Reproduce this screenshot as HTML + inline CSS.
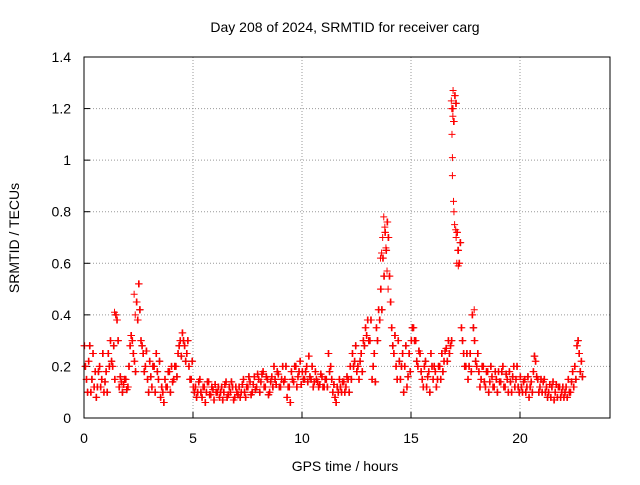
<!DOCTYPE html>
<html><head><meta charset="utf-8"><style>
body{margin:0;background:#fff}
svg text{font-family:"Liberation Sans",sans-serif;font-size:14px;fill:#000}
</style></head><body>
<svg id="chart" width="640" height="480" viewBox="0 0 640 480">
<text x="345" y="32" text-anchor="middle">Day 208 of 2024, SRMTID for receiver carg</text>
<text x="345" y="471" text-anchor="middle">GPS time / hours</text>
<text transform="translate(19,238) rotate(-90)" text-anchor="middle">SRMTID / TECUs</text>
<g id="grid"></g><g id="ticks"></g><g id="marks"></g>
<rect x="84" y="57" width="526" height="361" fill="none" stroke="#000" stroke-width="1"/>
</svg>
<script>
const xTicks=[0,5,10,15,20];
const yTicks=[0,0.2,0.4,0.6,0.8,1,1.2,1.4];
const yTickLabels=["0","0.2","0.4","0.6","0.8","1","1.2","1.4"];
const step=0.1;
const mainVals=[0.28,0.15,0.22,0.1,0.25,0.18,0.12,0.2,0.15,0.1,0.18,0.25,0.3,0.2,0.15,0.38,0.12,0.14,0.13,0.15,0.12,0.28,0.3,0.22,0.45,0.52,0.3,0.25,0.2,0.15,0.22,0.12,0.2,0.25,0.15,0.08,0.1,0.15,0.12,0.18,0.2,0.15,0.2,0.25,0.3,0.33,0.28,0.25,0.2,0.15,0.12,
0.12,0.1,0.15,0.08,0.12,0.1,0.14,0.09,0.11,0.13,
0.1,0.08,0.12,0.1,0.14,0.09,0.1,0.12,0.08,0.1,
0.12,0.1,0.15,0.08,0.12,0.14,0.1,0.16,0.12,0.15,
0.14,0.18,0.12,0.15,0.1,0.16,0.2,0.13,0.17,0.12,
0.2,0.15,0.08,0.12,0.18,0.14,0.2,0.16,0.22,0.18,
0.15,0.2,0.24,0.15,0.12,0.18,0.14,0.13,0.16,0.12,
0.15,0.25,0.2,0.1,0.08,0.12,0.15,0.1,0.14,0.12,
0.15,0.2,0.25,0.22,0.18,0.15,0.25,0.3,0.35,0.38,
0.3,0.15,0.25,0.35,0.42,0.5,0.62,0.72,0.76,0.55,
0.35,0.25,0.2,0.3,0.15,0.25,0.2,0.12,0.25,0.3,
0.35,0.3,0.2,0.25,0.15,0.2,0.12,0.18,0.25,0.15,
0.18,0.15,0.2,0.25,0.22,0.27,0.3,0.28,1.2,1.25,
0.72,0.6,0.35,0.25,0.2,0.15,0.25,0.4,0.3,0.2,
0.18,0.15,0.2,0.12,0.18,0.14,0.16,0.12,0.15,0.18,
0.14,0.2,0.12,0.15,0.18,0.1,0.2,0.15,0.12,0.16,
0.1,0.15,0.12,0.08,0.14,0.18,0.22,0.15,0.12,0.1,
0.15,0.12,0.1,0.08,0.14,0.1,0.08,0.12,0.1,0.08,
0.12,0.15,0.1,0.18,0.2,0.28,0.25,0.22];
const altVals=[0.2,0.1,0.28,0.15,0.12,0.08,0.18,0.12,0.25,0.14,0.1,0.2,0.22,0.28,0.4,0.3,0.16,0.1,0.15,0.11,0.2,0.32,0.25,0.18,0.38,0.42,0.28,0.18,0.26,0.1,0.16,0.2,0.1,0.18,0.22,0.12,0.06,0.12,0.18,0.1,0.14,0.2,0.16,0.28,0.24,0.3,0.22,0.3,0.15,0.22,0.1,
0.08,0.14,0.1,0.12,0.06,0.14,0.09,0.12,0.07,0.1,
0.12,0.1,0.07,0.13,0.08,0.12,0.14,0.07,0.12,0.09,
0.08,0.13,0.1,0.12,0.16,0.09,0.13,0.11,0.17,0.1,
0.17,0.12,0.16,0.09,0.14,0.12,0.15,0.18,0.12,0.15,
0.14,0.2,0.12,0.06,0.15,0.2,0.12,0.18,0.13,0.15,
0.18,0.14,0.16,0.2,0.14,0.15,0.12,0.17,0.12,0.15,
0.12,0.18,0.15,0.13,0.06,0.1,0.12,0.14,0.1,0.16,
0.1,0.15,0.2,0.28,0.2,0.22,0.18,0.28,0.32,0.3,
0.38,0.2,0.14,0.3,0.38,0.42,0.55,0.65,0.7,0.45,
0.28,0.32,0.15,0.22,0.2,0.1,0.28,0.16,0.18,0.35,
0.3,0.22,0.26,0.18,0.12,0.22,0.16,0.1,0.2,0.2,
0.12,0.2,0.15,0.18,0.26,0.22,0.25,0.3,1.15,1.22,
0.65,0.68,0.3,0.2,0.25,0.2,0.18,0.35,0.22,0.25,
0.12,0.2,0.14,0.18,0.1,0.2,0.12,0.18,0.1,0.14,
0.18,0.12,0.17,0.1,0.14,0.16,0.12,0.2,0.1,0.12,
0.14,0.1,0.16,0.12,0.1,0.24,0.16,0.1,0.15,0.14,
0.1,0.08,0.13,0.12,0.07,0.13,0.12,0.08,0.12,0.1,
0.08,0.1,0.14,0.12,0.15,0.3,0.18,0.16];
const burstTimes=[16.85,16.87,16.88,16.9,16.9,16.92,16.93,16.95,16.97,17.0,17.05,17.07,17.1,17.12,17.15,17.17,13.6,13.65,13.7,13.75,13.8,13.85,13.9,13.95,2.3,2.35,17.9,1.4];
const burstVals=[1.23,1.2,1.1,1.01,0.94,1.17,1.27,0.84,0.8,0.75,0.73,0.7,0.6,0.72,0.65,0.59,0.62,0.64,0.7,0.78,0.74,0.66,0.57,0.5,0.48,0.4,0.42,0.41];
const X=t=>84+t*21.8, Y=v=>418-v*361/1.4;
const ns="http://www.w3.org/2000/svg";
const grid=document.getElementById('grid'),ticks=document.getElementById('ticks'),marks=document.getElementById('marks');
function mk(tag,attrs,parent){const e=document.createElementNS(ns,tag);for(const k in attrs)e.setAttribute(k,attrs[k]);parent.appendChild(e);return e;}
xTicks.forEach(t=>{
 if(t>0){const g=mk('line',{x1:X(t),x2:X(t),y1:57,y2:418,stroke:'#999','stroke-dasharray':'1,2'},grid);
 
 }
 const l=mk('text',{x:X(t),y:443,'text-anchor':'middle'},ticks);l.textContent=t;
 
 
 mk('line',{x1:X(t),x2:X(t),y1:418,y2:412,stroke:'#000'},ticks);
});
yTicks.forEach((v,i)=>{
 if(v>0&&v<1.4){const g=mk('line',{x1:84,x2:610,y1:Y(v),y2:Y(v),stroke:'#999','stroke-dasharray':'1,2'},grid);
 
 }
 const l=mk('text',{x:71,y:Y(v)+5,'text-anchor':'end'},ticks);l.textContent=yTickLabels[i];
 
 
 mk('line',{x1:84,x2:90,y1:Y(v),y2:Y(v),stroke:'#000'},ticks);
});
function plus(t,v,color,name){
 const x=X(t),y=Y(v);
 const p=mk('path',{d:`M${x-3.5},${y}h7M${x},${y-3.5}v7`,stroke:color,'stroke-width':1,fill:'none'},marks);
 
 
}
altVals.forEach((v,i)=>plus(i*step+0.06,v,'#000','black-point'));
mainVals.forEach((v,i)=>plus(i*step,v,'#f00','srmtid-point'));
mainVals.forEach((v,i)=>plus(i*step+0.03,v,'#f00','srmtid-point'));
altVals.forEach((v,i)=>plus(i*step+0.05,v,'#f00','srmtid-point'));
altVals.forEach((v,i)=>plus(i*step+0.08,v,'#f00','srmtid-point'));
burstTimes.forEach((t,i)=>plus(t,burstVals[i],'#f00','srmtid-point'));
</script>
</body></html>
